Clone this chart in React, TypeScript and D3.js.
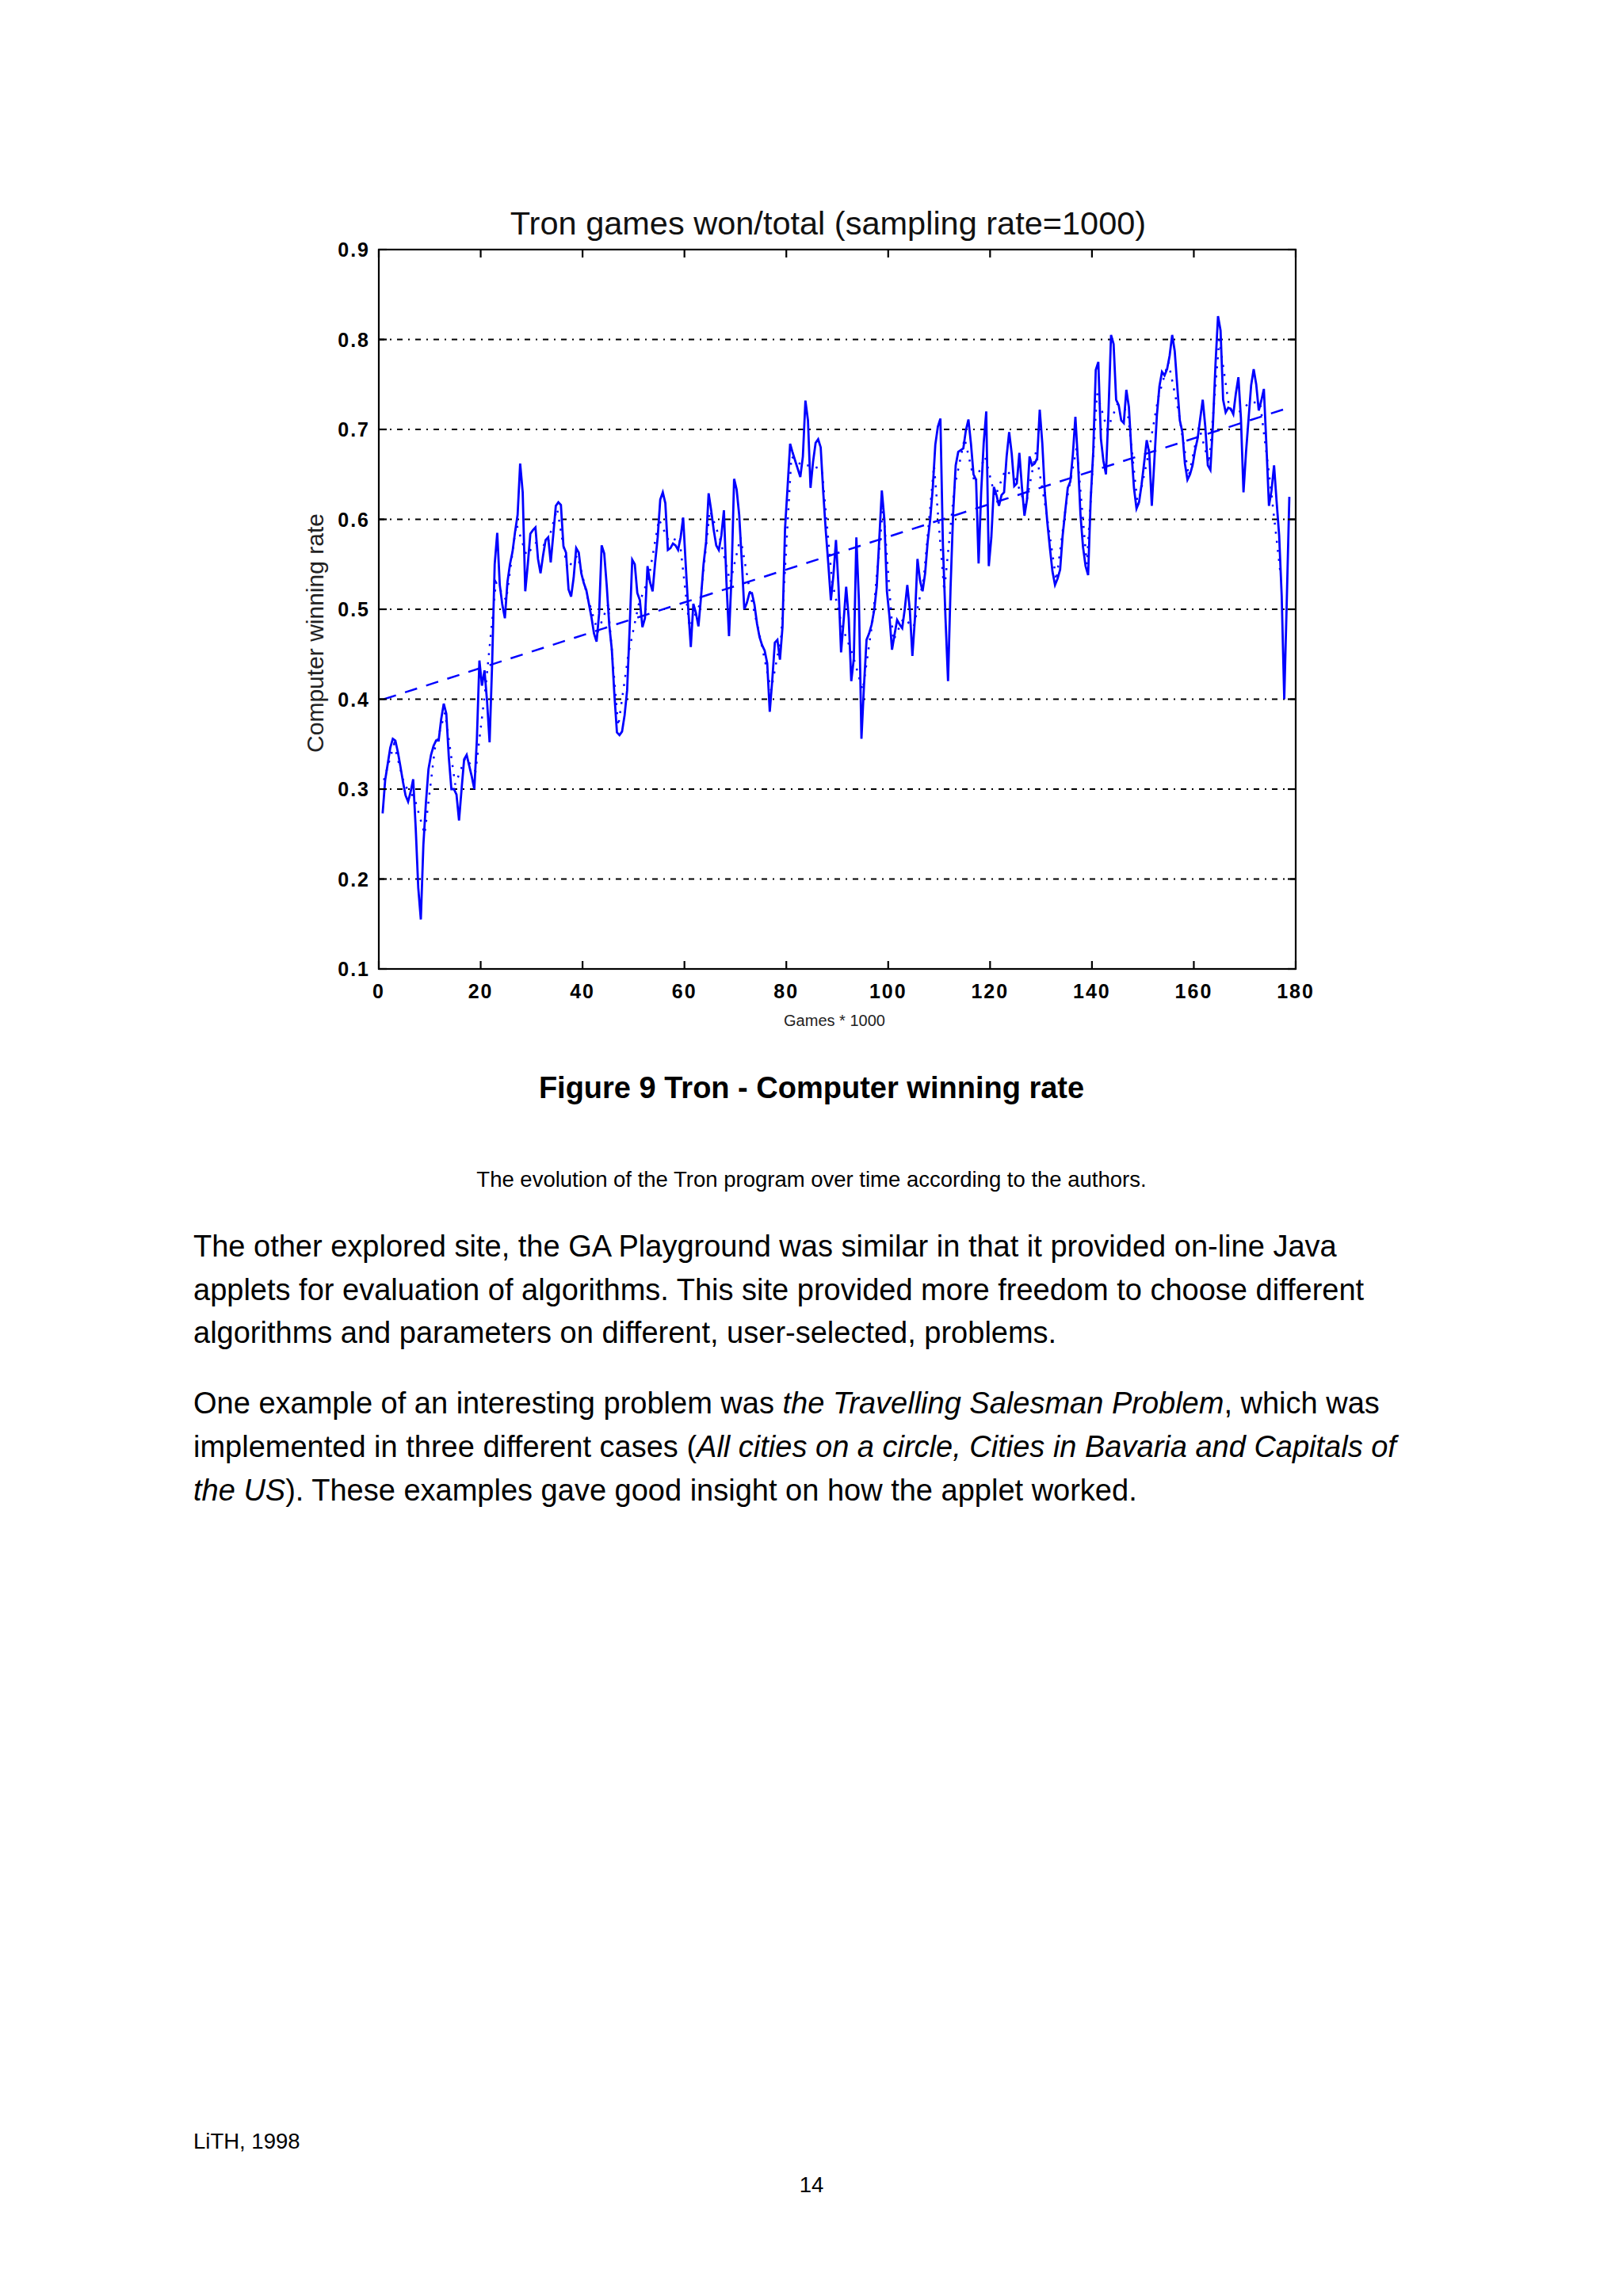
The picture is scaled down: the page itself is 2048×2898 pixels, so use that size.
import React from "react";
import * as d3 from "d3";

// ---- chart text ----
const chartTitle = "Tron games won/total (sampling rate=1000)";
const xAxisLabel = "Games * 1000";
const yAxisLabel = "Computer winning rate";

// ---- axes ----
const xTicks = [0, 20, 40, 60, 80, 100, 120, 140, 160, 180];
const yTicks = [0.1, 0.2, 0.3, 0.4, 0.5, 0.6, 0.7, 0.8, 0.9];
const yTickLabels = ["0.1", "0.2", "0.3", "0.4", "0.5", "0.6", "0.7", "0.8", "0.9"];
const gridLevels = [0.2, 0.3, 0.4, 0.5, 0.6, 0.7, 0.8];

// ---- raw winning rate, one reading every 0.5 (x1000 games) starting at 0.75 ----
const rateStart = 0.75;
const rateStep = 0.5;
const winRate = [
  0.273, 0.31, 0.328, 0.346, 0.356, 0.354, 0.341, 0.325, 0.308, 0.293,
  0.286, 0.297, 0.311, 0.256, 0.19, 0.155, 0.238, 0.285, 0.322, 0.338,
  0.348, 0.354, 0.354, 0.378, 0.395, 0.384, 0.335, 0.3, 0.3, 0.294,
  0.265, 0.3, 0.333, 0.338, 0.326, 0.314, 0.3, 0.355, 0.443, 0.415,
  0.432, 0.398, 0.352, 0.44, 0.55, 0.585, 0.527, 0.505, 0.49, 0.53,
  0.55, 0.564, 0.586, 0.605, 0.662, 0.63, 0.52, 0.55, 0.584, 0.588,
  0.591, 0.556, 0.54, 0.56, 0.577, 0.58, 0.552, 0.583, 0.615, 0.619,
  0.616, 0.57, 0.563, 0.522, 0.514, 0.535, 0.568, 0.563, 0.54, 0.529,
  0.521, 0.506, 0.491, 0.473, 0.464, 0.495, 0.571, 0.562, 0.526, 0.482,
  0.455, 0.405, 0.363, 0.36, 0.364, 0.382, 0.41, 0.48, 0.555, 0.55,
  0.518, 0.51, 0.48, 0.49, 0.548, 0.53, 0.52, 0.552, 0.58, 0.622,
  0.63, 0.618, 0.566, 0.568, 0.573, 0.571, 0.566, 0.58, 0.602, 0.55,
  0.5, 0.458, 0.506, 0.496, 0.481, 0.513, 0.55, 0.575, 0.629, 0.61,
  0.588, 0.571, 0.566, 0.582, 0.61, 0.53, 0.47, 0.537, 0.645, 0.633,
  0.605, 0.555, 0.5, 0.507, 0.518, 0.518, 0.505, 0.484, 0.469, 0.46,
  0.454, 0.44, 0.386, 0.422, 0.463, 0.466, 0.444, 0.48, 0.59, 0.636,
  0.684, 0.674, 0.665, 0.656, 0.647, 0.67, 0.732, 0.71, 0.635, 0.664,
  0.685, 0.689, 0.68, 0.63, 0.587, 0.55, 0.51, 0.538, 0.577, 0.525,
  0.452, 0.487, 0.525, 0.49, 0.42, 0.445, 0.58, 0.51, 0.356, 0.415,
  0.466, 0.473, 0.483, 0.499, 0.525, 0.578, 0.632, 0.6, 0.52, 0.492,
  0.455, 0.472, 0.488, 0.483, 0.479, 0.5, 0.527, 0.499, 0.448, 0.49,
  0.556, 0.532, 0.52, 0.54, 0.575, 0.6, 0.635, 0.683, 0.703, 0.712,
  0.57, 0.49, 0.42, 0.525, 0.607, 0.66, 0.675, 0.677, 0.679, 0.699,
  0.711, 0.684, 0.65, 0.644, 0.551, 0.63, 0.685, 0.72, 0.548, 0.58,
  0.636, 0.627, 0.615, 0.627, 0.63, 0.67, 0.697, 0.673, 0.637, 0.64,
  0.674, 0.636, 0.604, 0.622, 0.67, 0.66, 0.662, 0.668, 0.722, 0.685,
  0.63, 0.596, 0.568, 0.542, 0.527, 0.534, 0.544, 0.582, 0.609, 0.635,
  0.642, 0.672, 0.714, 0.665, 0.605, 0.569, 0.548, 0.538, 0.622, 0.675,
  0.766, 0.775, 0.69, 0.665, 0.65, 0.72, 0.805, 0.795, 0.733, 0.727,
  0.71, 0.707, 0.744, 0.725, 0.676, 0.635, 0.612, 0.619, 0.639, 0.663,
  0.688, 0.674, 0.615, 0.665, 0.716, 0.748, 0.764, 0.76, 0.767, 0.782,
  0.805, 0.787, 0.748, 0.71, 0.697, 0.662, 0.644, 0.65, 0.66, 0.677,
  0.69, 0.712, 0.733, 0.703, 0.66, 0.655, 0.705, 0.772, 0.826, 0.81,
  0.733, 0.719, 0.724, 0.723, 0.717, 0.74, 0.758, 0.712, 0.63, 0.675,
  0.712, 0.749, 0.767, 0.75, 0.721, 0.732, 0.745, 0.682, 0.615, 0.632,
  0.66, 0.62, 0.582, 0.515, 0.4, 0.51, 0.625,
];

// ---- smoothed (dotted) curve, one reading every 2 starting at 1 ----
const smoothStart = 1;
const smoothStep = 2;
const smoothedRate = [
  0.31, 0.35, 0.305, 0.29, 0.25, 0.345, 0.385, 0.305, 0.335, 0.32,
  0.415, 0.53, 0.51, 0.595, 0.56, 0.575, 0.57, 0.612, 0.545, 0.56,
  0.513, 0.475, 0.505, 0.37, 0.45, 0.505, 0.535, 0.6, 0.575, 0.58,
  0.48, 0.505, 0.61, 0.578, 0.53, 0.58, 0.515, 0.465, 0.41, 0.47,
  0.67, 0.66, 0.66, 0.655, 0.53, 0.48, 0.45, 0.41, 0.49, 0.615,
  0.465, 0.49, 0.48, 0.535, 0.66, 0.52, 0.635, 0.69, 0.64, 0.67,
  0.625, 0.655, 0.645, 0.615, 0.675, 0.61, 0.532, 0.62, 0.68, 0.55,
  0.74, 0.7, 0.728, 0.72, 0.615, 0.67, 0.735, 0.775, 0.72, 0.648,
  0.703, 0.662, 0.8, 0.722, 0.72, 0.73, 0.73, 0.64, 0.54,
];

// ---- linear trend (dashed) ----
const trendGames = [1, 178.6];
const trendRate = [0.4, 0.724];

// ---- page text ----
const figureCaption = "Figure 9 Tron - Computer winning rate";
const figureNote = "The evolution of the Tron program over time according to the authors.";

type Run = { text: string; italic?: boolean };
const bodyLines: Run[][] = [
  [{ text: "The other explored site, the GA Playground was similar in that it provided on-line Java" }],
  [{ text: "applets for evaluation of algorithms. This site provided more freedom to choose different" }],
  [{ text: "algorithms and parameters on different, user-selected, problems." }],
  [
    { text: "One example of an interesting problem was " },
    { text: "the Travelling Salesman Problem", italic: true },
    { text: ", which was" },
  ],
  [
    { text: "implemented in three different cases (" },
    { text: "All cities on a circle, Cities in Bavaria and Capitals of", italic: true },
  ],
  [
    { text: "the US", italic: true },
    { text: "). These examples gave good insight on how the applet worked." },
  ],
];
const bodyBaselines = [1586, 1641, 1695, 1784, 1839, 1894];

const footerLeft = "LiTH, 1998";
const pageNumber = "14";

const W = 2048;
const H = 2898;
const plot = { left: 478, right: 1635, top: 315, bottom: 1223 };
const font = "'Liberation Sans', Arial, Helvetica, sans-serif";
const blue = "#0000ff";

const App: React.FC = () => {
  const x = d3.scaleLinear().domain([0, 180]).range([plot.left, plot.right]);
  const y = d3.scaleLinear().domain([0.1, 0.9]).range([plot.bottom, plot.top]);

  const line = d3
    .line<[number, number]>()
    .x((d) => x(d[0]))
    .y((d) => y(d[1]));

  const rawPoints = winRate.map((v, i) => [rateStart + i * rateStep, v] as [number, number]);
  const smoothPoints = smoothedRate.map(
    (v, i) => [smoothStart + i * smoothStep, v] as [number, number]
  );
  const trendPoints = trendGames.map((g, i) => [g, trendRate[i]] as [number, number]);

  const tickLen = 10;

  return (
    <svg
      width={W}
      height={H}
      viewBox={`0 0 ${W} ${H}`}
      style={{ position: "absolute", left: 0, top: 0, display: "block", background: "#fff" }}
      fontFamily={font}
    >
      <rect x={0} y={0} width={W} height={H} fill="#fff" />

      {/* title */}
      <text x={1045} y={296} fontSize={41.5} textAnchor="middle" fill="#111">
        {chartTitle}
      </text>

      {/* grid */}
      {gridLevels.map((g) => (
        <line
          key={`grid-${g}`}
          x1={plot.left}
          x2={plot.right}
          y1={y(g)}
          y2={y(g)}
          stroke="#000"
          strokeWidth={2.2}
          strokeDasharray="7 7 2 7"
        />
      ))}

      {/* series */}
      <path d={line(trendPoints) || ""} fill="none" stroke={blue} strokeWidth={2.5} strokeDasharray="16 12" />
      <path d={line(smoothPoints) || ""} fill="none" stroke={blue} strokeWidth={2.5} strokeDasharray="2.5 9" />
      <path d={line(rawPoints) || ""} fill="none" stroke={blue} strokeWidth={2.8} strokeLinejoin="miter" />

      {/* frame */}
      <rect
        x={plot.left}
        y={plot.top}
        width={plot.right - plot.left}
        height={plot.bottom - plot.top}
        fill="none"
        stroke="#000"
        strokeWidth={2.2}
      />

      {/* ticks */}
      {xTicks.map((t) => (
        <g key={`xt-${t}`}>
          <line x1={x(t)} x2={x(t)} y1={plot.top} y2={plot.top + tickLen} stroke="#000" strokeWidth={2.2} />
          <line x1={x(t)} x2={x(t)} y1={plot.bottom} y2={plot.bottom - tickLen} stroke="#000" strokeWidth={2.2} />
          <text
            x={x(t)}
            y={1260}
            fontSize={25}
            fontWeight="bold"
            letterSpacing={2}
            textAnchor="middle"
            fill="#000"
          >
            {t}
          </text>
        </g>
      ))}
      {yTicks.map((t, i) => (
        <g key={`yt-${t}`}>
          <line x1={plot.left} x2={plot.left + tickLen} y1={y(t)} y2={y(t)} stroke="#000" strokeWidth={2.2} />
          <line x1={plot.right} x2={plot.right - tickLen} y1={y(t)} y2={y(t)} stroke="#000" strokeWidth={2.2} />
          <text
            x={467}
            y={y(t) + 9}
            fontSize={25}
            fontWeight="bold"
            letterSpacing={2}
            textAnchor="end"
            fill="#000"
          >
            {yTickLabels[i]}
          </text>
        </g>
      ))}

      {/* axis labels */}
      <text x={1053} y={1295} fontSize={20} textAnchor="middle" fill="#222">
        {xAxisLabel}
      </text>
      <text
        transform="translate(408, 799) rotate(-90)"
        x={0}
        y={0}
        fontSize={30}
        textAnchor="middle"
        fill="#222"
      >
        {yAxisLabel}
      </text>

      {/* caption */}
      <text x={1024} y={1386} fontSize={38} fontWeight="bold" textAnchor="middle" fill="#000">
        {figureCaption}
      </text>
      <text x={1024} y={1498} fontSize={27.5} textAnchor="middle" fill="#000">
        {figureNote}
      </text>

      {/* body text */}
      {bodyLines.map((runs, i) => (
        <text key={`body-${i}`} x={244} y={bodyBaselines[i]} fontSize={38} fill="#000">
          {runs.map((r, j) => (
            <tspan key={j} fontStyle={r.italic ? "italic" : "normal"}>
              {r.text}
            </tspan>
          ))}
        </text>
      ))}

      {/* footer */}
      <text x={244} y={2712} fontSize={27.5} fill="#000">
        {footerLeft}
      </text>
      <text x={1024} y={2767} fontSize={27.5} textAnchor="middle" fill="#000">
        {pageNumber}
      </text>
    </svg>
  );
};

export default App;
